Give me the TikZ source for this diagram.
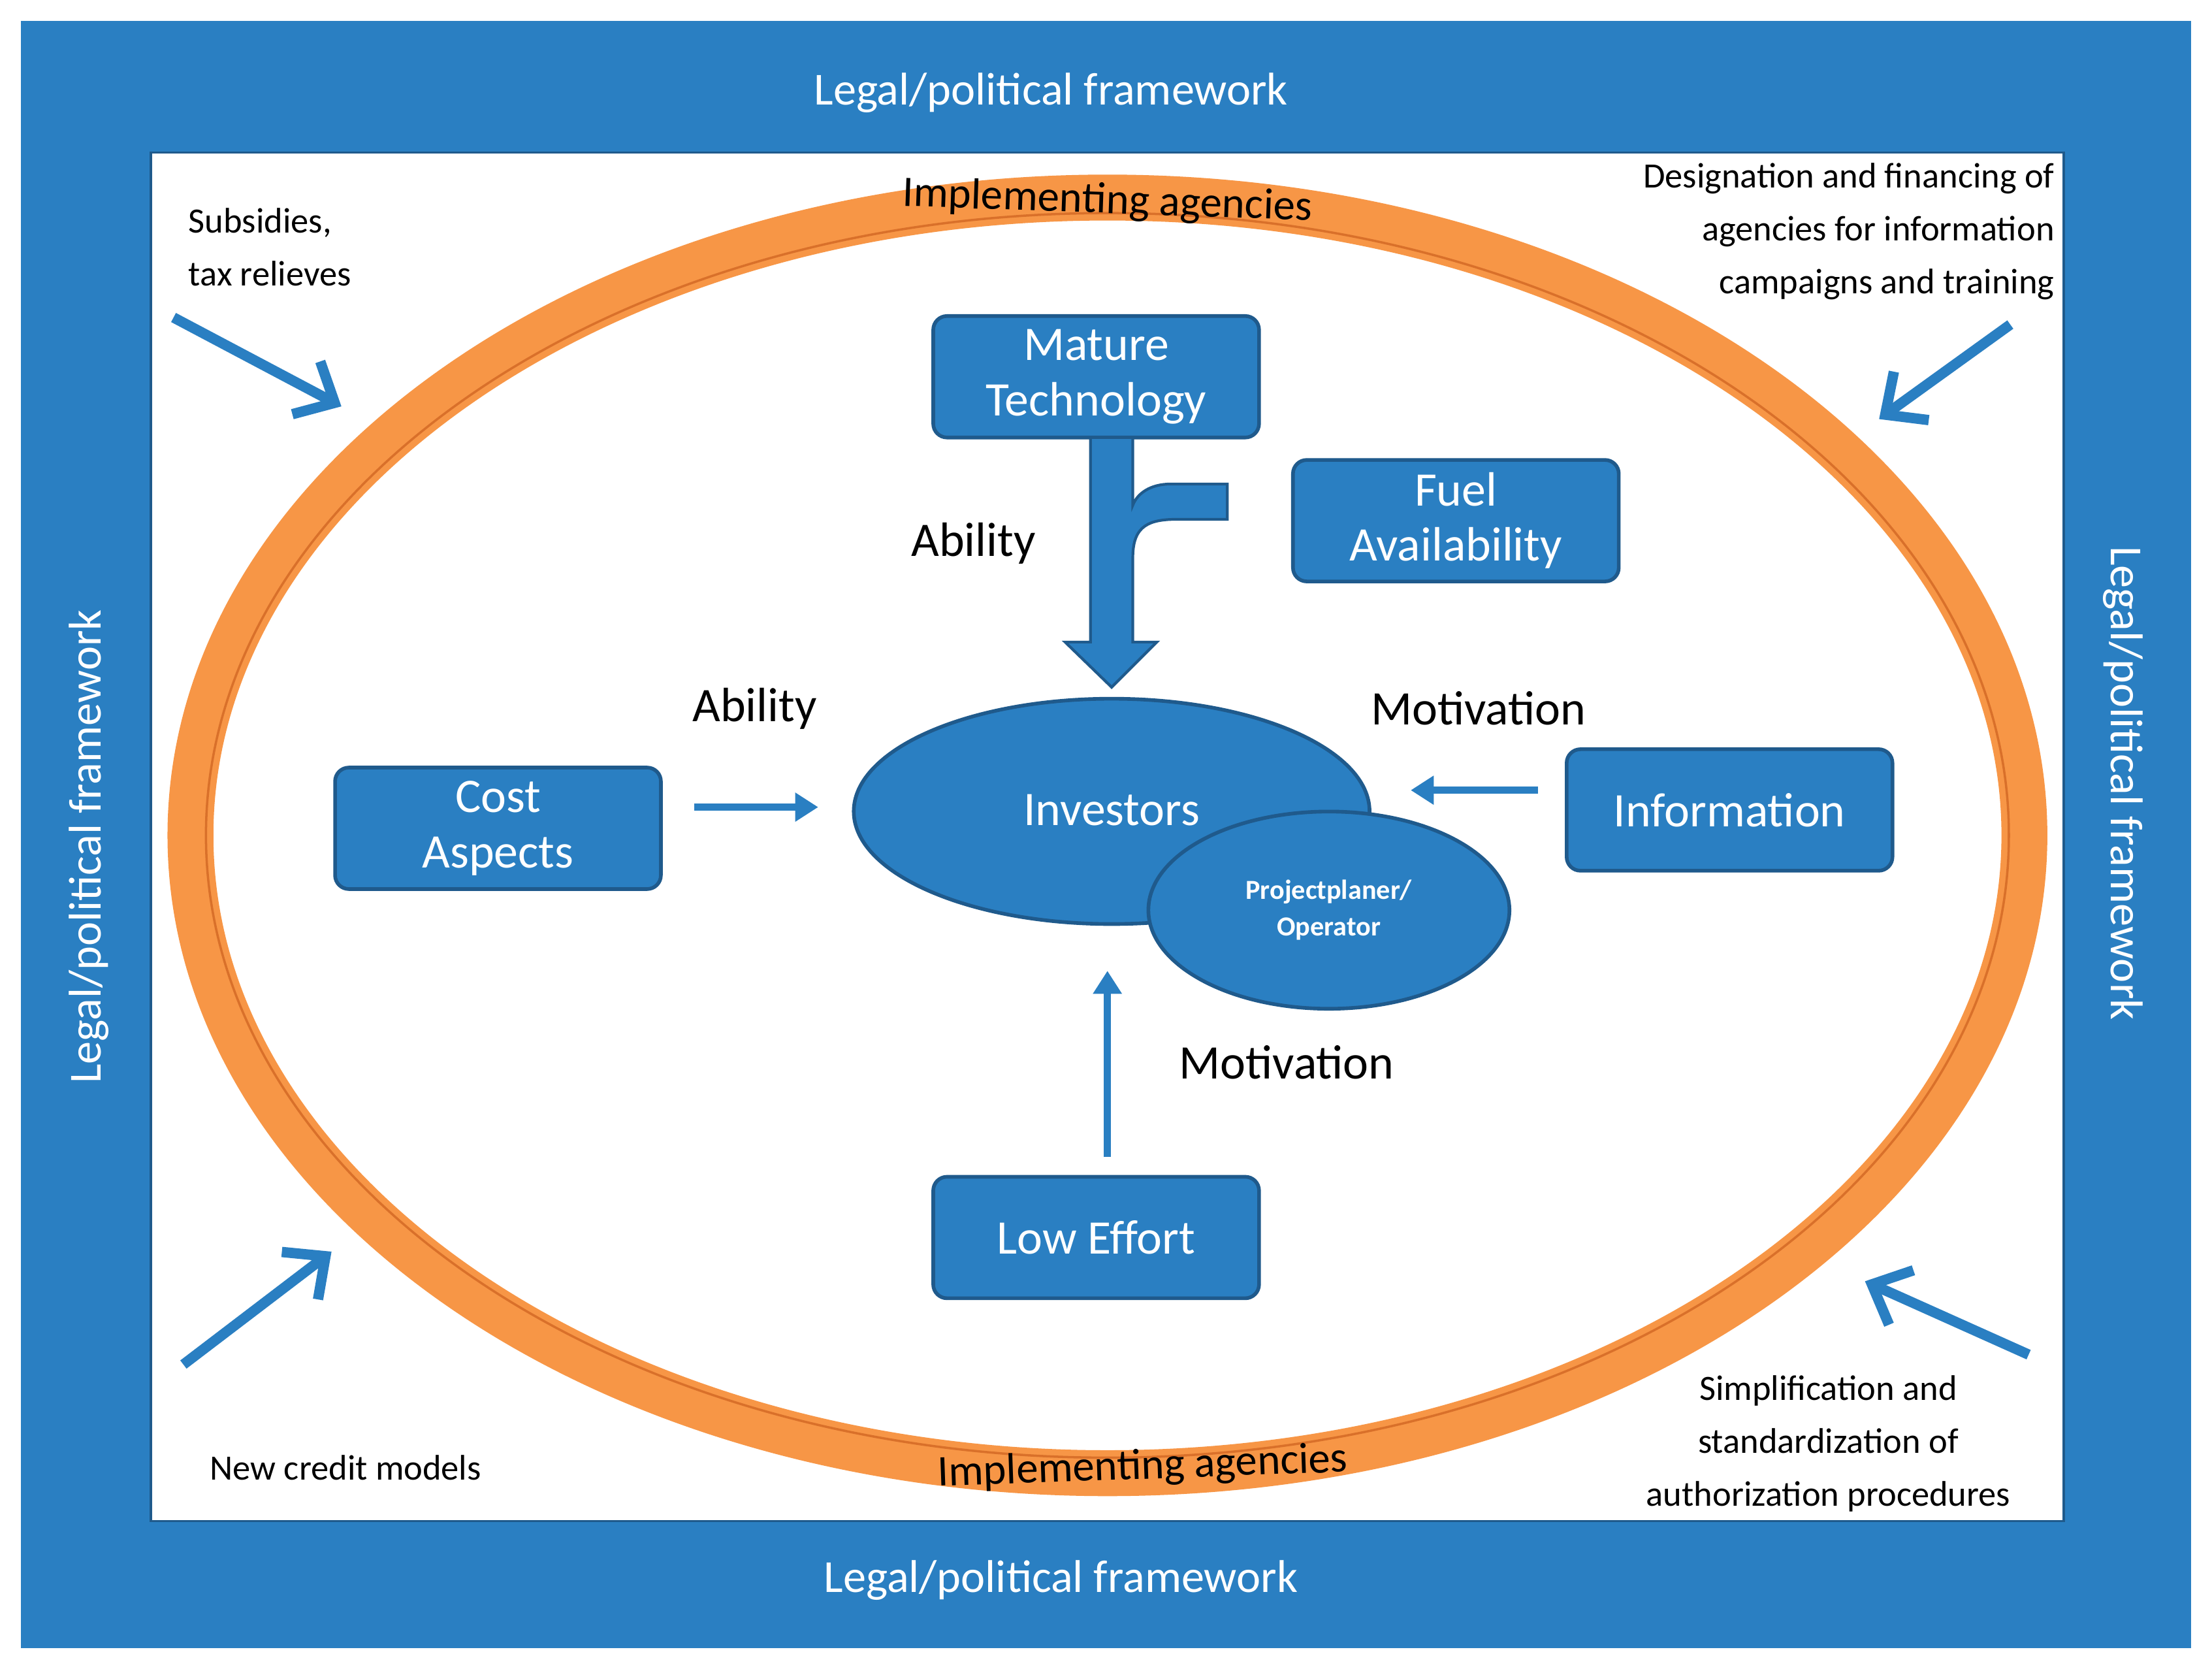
\documentclass[tikz,border=0pt]{standalone}
\usepackage{fontspec}
\setmainfont{Carlito}
\usetikzlibrary{arrows.meta,shapes.geometric}
\definecolor{bl}{HTML}{2A7FC2}
\definecolor{bd}{HTML}{1F5A8C}
\definecolor{org}{HTML}{F79646}
\definecolor{orgd}{HTML}{D9702A}
\begin{document}
\begin{tikzpicture}[x=0.0216cm,y=-0.0216cm,
 box/.style={draw=bd,line width=1.6pt,fill=bl,rounded corners=6pt,minimum width=4.99cm,minimum height=1.86cm,text=white,font=\fontsize{21}{24}\selectfont,align=center,inner sep=0pt},
 lab/.style={font=\fontsize{21}{24}\selectfont,text=black},
 frame/.style={font=\fontsize{20}{24}\selectfont,text=white},
 corner/.style={font=\fontsize{15.5}{23}\selectfont,text=black},
 thin/.style={draw=bl,line width=3pt,-{Triangle[length=10pt,width=12pt]}},
 cor/.style={draw=bl,line width=4.5pt,-{Straight Barb[length=14pt,width=26pt,line width=4.5pt]}}]
\useasboundingbox[fill=white] (0,0) rectangle (1568,1184);
\fill[bl] (15,15) rectangle (1553,1168);
\draw[fill=white,draw=bd,line width=1pt] (107,108) rectangle (1463,1078);
% ring
\draw[orgd,line width=1pt] (785,592) ellipse [x radius=661,y radius=463];
\draw[org,line width=20pt] (785,592) ellipse [x radius=650,y radius=452];
\draw[orgd,line width=1pt] (785,592) ellipse [x radius=639,y radius=441];
\node[font=\fontsize{19}{22}\selectfont,rotate=-2] (ia1) at (785,143) {Implementing agencies};
\node[font=\fontsize{19}{22}\selectfont,rotate=2] (ia2) at (810,1040) {Implementing agencies};
% frame labels
\node[frame] (lt) at (745,66) {Legal/political framework};
\node[frame] (lb) at (752,1120) {Legal/political framework};
\node[frame,rotate=90] (ll) at (63,600) {Legal/political framework};
\node[frame,rotate=-90] (lr) at (1505,555) {Legal/political framework};
% corner texts
\node[corner,align=left,anchor=west] (sub) at (128,175) {Subsidies,\\tax relieves};
\node[corner,align=right,anchor=north east] (des) at (1462,110) {Designation and financing of\\agencies for information\\campaigns and training};
\node[corner] (ncm) at (245,1040) {New credit models};
\node[corner,align=center] (sim) at (1296,1023) {Simplification and\\standardization of\\authorization procedures};
\coordinate (a1s) at (123,225); \coordinate (a1e) at (242,288);
\coordinate (a2s) at (1425,230); \coordinate (a2e) at (1332,297);
\coordinate (a3s) at (130,967); \coordinate (a3e) at (235,887);
\coordinate (a4s) at (1438,960); \coordinate (a4e) at (1322,908);
\draw[cor] (a1s) -- (a1e);
\draw[cor] (a2s) -- (a2e);
\draw[cor] (a3s) -- (a3e);
\draw[cor] (a4s) -- (a4e);
% boxes
\node[box] (mt) at (777,267) {Mature\\Technology};
\node[box] (fa) at (1032,369) {Fuel\\Availability};
\node[box] (ca) at (353,587) {Cost\\Aspects};
\node[box] (inf) at (1226,574) {Information};
\node[box] (le) at (777,877) {Low Effort};
% ellipses
\node[draw=bd,line width=1.6pt,fill=bl,ellipse,minimum width=7.9cm,minimum height=3.45cm] (inv) at (788,575) {};
\node[text=white,font=\fontsize{21}{24}\selectfont] (invt) at (788,574) {Investors};
\node[draw=bd,line width=1.6pt,fill=bl,ellipse,minimum width=5.53cm,minimum height=3.02cm,text=white,font=\bfseries\fontsize{12}{16}\selectfont,align=center,inner sep=0pt] (pp) at (942,645) {Projectplaner/\\Operator};
% big arrow with branch
\filldraw[fill=bl,draw=bd,line width=1.2pt] (773,310) -- (773,455) -- (755,455) -- (788,487) -- (820,455) -- (803,455) -- (803,395) .. controls (803,372) and (815,368) .. (835,368) -- (870,368) -- (870,343) -- (830,343) .. controls (815,343) and (806,350) .. (803,358) -- (803,310) -- cycle;
\node[lab] (ab1) at (690,385) {Ability};
\node[lab] (ab2) at (535,502) {Ability};
\node[lab] (mo1) at (1048,502) {Motivation};
\node[lab] (mo2) at (912,753) {Motivation};
\coordinate (c1) at (492,572); \coordinate (c2) at (580,572);
\coordinate (i1) at (1090,560); \coordinate (i2) at (1000,560);
\coordinate (l1) at (785,820); \coordinate (l2) at (785,688);
\draw[thin] (c1) -- (c2);
\draw[thin] (i1) -- (i2);
\draw[thin] (l1) -- (l2);
\end{tikzpicture}
\end{document}
